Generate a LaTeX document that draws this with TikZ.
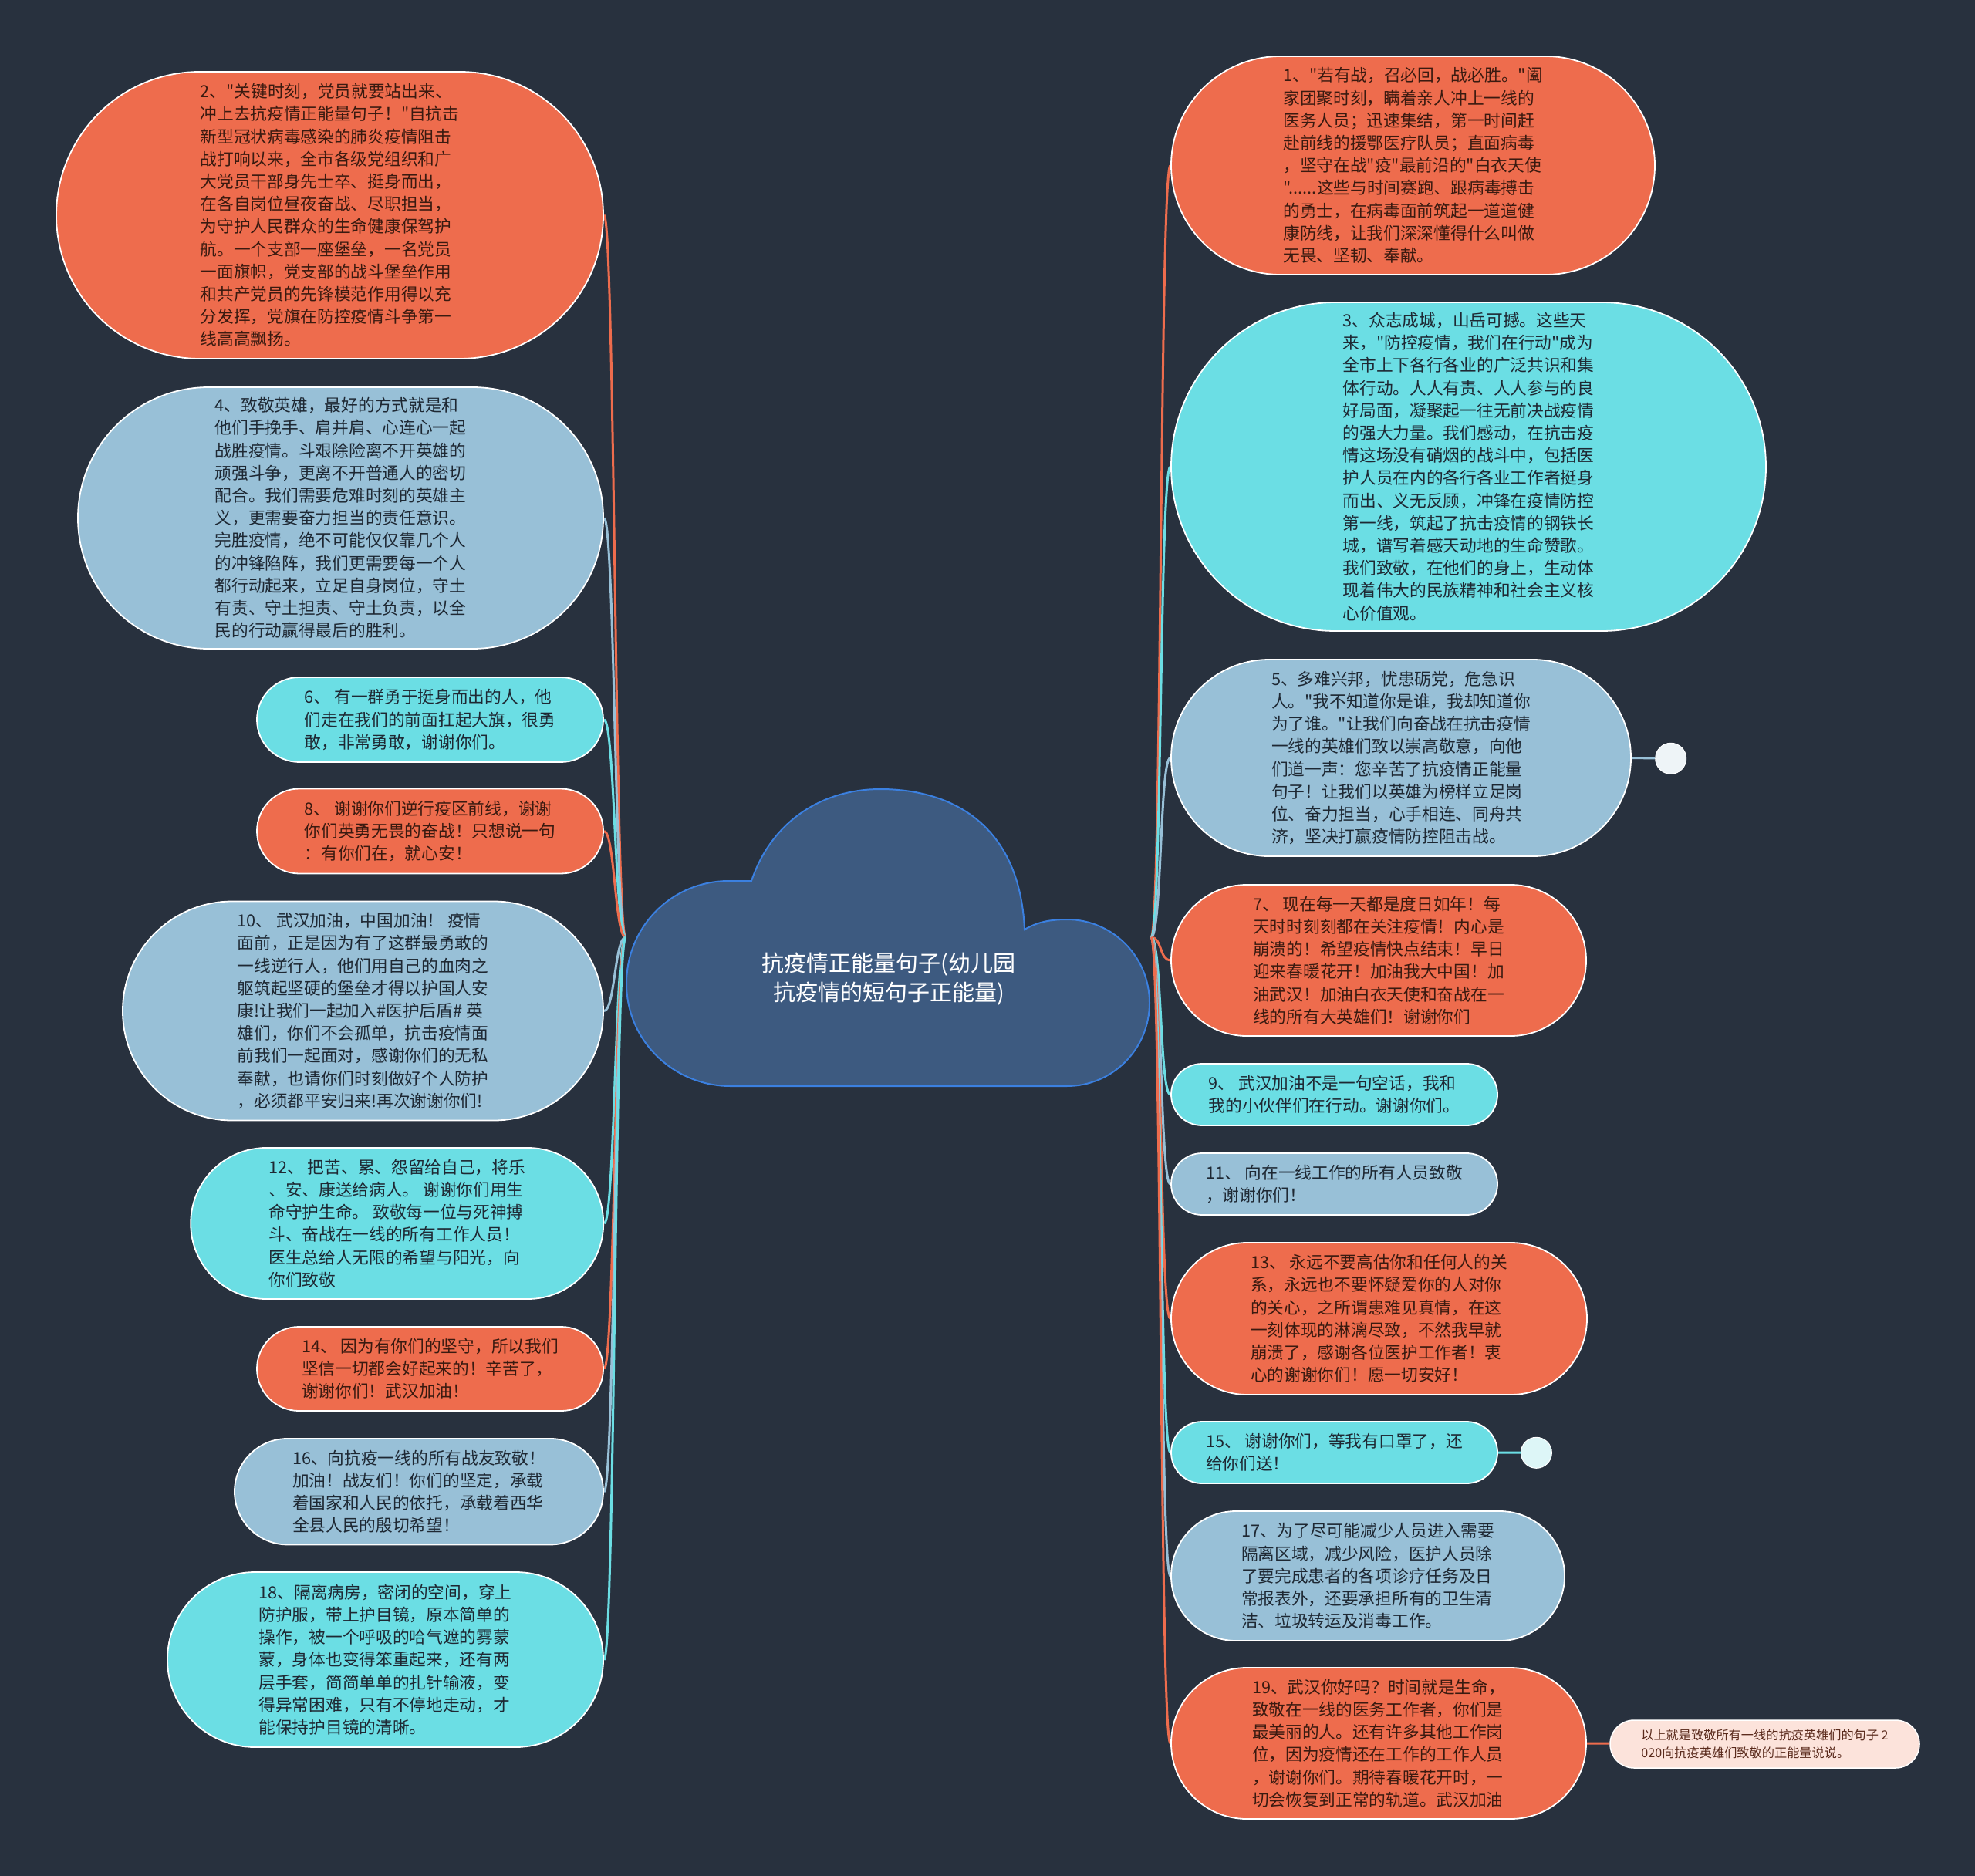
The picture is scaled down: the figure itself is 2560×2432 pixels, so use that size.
\documentclass[tikz,border=0pt]{standalone}
\usepackage{fontspec}
\newfontfamily\cjk{Noto Sans CJK SC}
\usetikzlibrary{shapes.misc}
\pgfdeclarelayer{back}
\pgfdeclarelayer{bg}
\pgfsetlayers{back,bg,main}
\definecolor{bgc}{HTML}{28313E}
\definecolor{orng}{HTML}{EE6C4D}
\definecolor{lblu}{HTML}{98C0D7}
\definecolor{cyn}{HTML}{6BDEE4}
\definecolor{cldf}{HTML}{3D5A80}
\definecolor{cldb}{HTML}{3B80E0}
\definecolor{txtd}{HTML}{1E2833}
\definecolor{txto}{HTML}{3A1A10}
\definecolor{notef}{HTML}{FCE3DB}
\definecolor{notet}{HTML}{5A2A1C}
\definecolor{dotb}{HTML}{EEF4F7}
\definecolor{dotc}{HTML}{DDF6F7}
\begin{document}
\begin{tikzpicture}[x=1pt,y=-1pt,
 pill/.style={rounded rectangle, draw=white, line width=1.8pt, inner sep=0pt},
 po/.style={pill, fill=orng},
 pb/.style={pill, fill=lblu},
 pc/.style={pill, fill=cyn},
 tx/.style={align=left, inner sep=0pt, font=\cjk\fontsize{21.7pt}{29.2pt}\selectfont, text=txtd},
 txo/.style={tx, text=txto},
 link/.style={line width=3pt},
]
\useasboundingbox (0,0) rectangle (2560,2432);
\begin{pgfonlayer}{back}
\fill[bgc] (0,0) rectangle (2560,2432);
\end{pgfonlayer}

% central cloud
\draw[fill=cldf, draw=cldb, line width=2pt]
 (947,1408) .. controls (873,1408) and (812,1349) .. (812,1275)
 .. controls (812,1202) and (870,1142) .. (945,1142)
 -- (974,1142)
 .. controls (1000,1065) and (1065,1023) .. (1141,1023)
 .. controls (1235,1023) and (1322,1070) .. (1328,1205)
 .. controls (1345,1195) and (1362,1192) .. (1383,1192)
 .. controls (1442,1192) and (1490,1240) .. (1490,1300)
 .. controls (1490,1360) and (1442,1408) .. (1383,1408)
 -- cycle;
\node[align=center, inner sep=0pt, text=white, font=\cjk\fontsize{29pt}{38pt}\selectfont] (title) at (1152,1269) {抗疫情正能量句子(幼儿园\\抗疫情的短句子正能量)};
\coordinate (cl) at (811,1215);
\coordinate (cr) at (1492,1215);

% left nodes
\node[po, minimum width=709pt, minimum height=372pt] (n2) at (427.5,279) {};
\node[txo] at (n2) {2、"关键时刻，党员就要站出来、\\冲上去抗疫情正能量句子！"自抗击\\新型冠状病毒感染的肺炎疫情阻击\\战打响以来，全市各级党组织和广\\大党员干部身先士卒、挺身而出，\\在各自岗位昼夜奋战、尽职担当，\\为守护人民群众的生命健康保驾护\\航。一个支部一座堡垒，一名党员\\一面旗帜，党支部的战斗堡垒作用\\和共产党员的先锋模范作用得以充\\分发挥，党旗在防控疫情斗争第一\\线高高飘扬。};

\node[pb, minimum width=681pt, minimum height=339pt] (n4) at (441.5,671.5) {};
\node[tx] at (n4) {4、致敬英雄，最好的方式就是和\\他们手挽手、肩并肩、心连心一起\\战胜疫情。斗艰除险离不开英雄的\\顽强斗争，更离不开普通人的密切\\配合。我们需要危难时刻的英雄主\\义，更需要奋力担当的责任意识。\\完胜疫情，绝不可能仅仅靠几个人\\的冲锋陷阵，我们更需要每一个人\\都行动起来，立足自身岗位，守土\\有责、守土担责、守土负责，以全\\民的行动赢得最后的胜利。};

\node[pc, minimum width=449pt, minimum height=110pt] (n6) at (557.5,933) {};
\node[tx] at (n6) {6、 有一群勇于挺身而出的人，他\\们走在我们的前面扛起大旗，很勇\\敢，非常勇敢，谢谢你们。};

\node[po, minimum width=449pt, minimum height=110pt] (n8) at (557.5,1077.5) {};
\node[txo] at (n8) {8、 谢谢你们逆行疫区前线，谢谢\\你们英勇无畏的奋战！只想说一句\\：有你们在，就心安！};

\node[pb, minimum width=623pt, minimum height=284pt] (n10) at (470.5,1310.5) {};
\node[tx] at (n10) {10、 武汉加油，中国加油！ 疫情\\面前，正是因为有了这群最勇敢的\\一线逆行人，他们用自己的血肉之\\躯筑起坚硬的堡垒才得以护国人安\\康!让我们一起加入\#医护后盾\# 英\\雄们，你们不会孤单，抗击疫情面\\前我们一起面对，感谢你们的无私\\奉献，也请你们时刻做好个人防护\\，必须都平安归来!再次谢谢你们!};

\node[pc, minimum width=535pt, minimum height=196pt] (n12) at (514.7,1586) {};
\node[tx] at (n12) {12、 把苦、累、怨留给自己，将乐\\、安、康送给病人。 谢谢你们用生\\命守护生命。 致敬每一位与死神搏\\斗、奋战在一线的所有工作人员！\\医生总给人无限的希望与阳光，向\\你们致敬};

\node[po, minimum width=449pt, minimum height=109pt] (n14) at (557.5,1774.5) {};
\node[txo] at (n14) {14、 因为有你们的坚守，所以我们\\坚信一切都会好起来的！辛苦了，\\谢谢你们！武汉加油！};

\node[pb, minimum width=478pt, minimum height=137.5pt] (n16) at (543,1933.7) {};
\node[tx] at (n16) {16、向抗疫一线的所有战友致敬！\\加油！战友们！你们的坚定，承载\\着国家和人民的依托，承载着西华\\全县人民的殷切希望！};

\node[pc, minimum width=565pt, minimum height=227pt] (n18) at (499.5,2151.5) {};
\node[tx] at (n18) {18、隔离病房，密闭的空间，穿上\\防护服，带上护目镜，原本简单的\\操作，被一个呼吸的哈气遮的雾蒙\\蒙，身体也变得笨重起来，还有两\\层手套，简简单单的扎针输液，变\\得异常困难，只有不停地走动，才\\能保持护目镜的清晰。};

% right nodes
\node[po, minimum width=627pt, minimum height=283pt] (n1) at (1831.5,214.5) {};
\node[txo] at (n1) {1、"若有战，召必回，战必胜。"阖\\家团聚时刻，瞒着亲人冲上一线的\\医务人员；迅速集结，第一时间赶\\赴前线的援鄂医疗队员；直面病毒\\，坚守在战"疫"最前沿的"白衣天使\\"......这些与时间赛跑、跟病毒搏击\\的勇士，在病毒面前筑起一道道健\\康防线，让我们深深懂得什么叫做\\无畏、坚韧、奉献。};

\node[pc, minimum width=771pt, minimum height=426pt] (n3) at (1903.5,605) {};
\node[tx] at (n3) {3、众志成城，山岳可撼。这些天\\来，"防控疫情，我们在行动"成为\\全市上下各行各业的广泛共识和集\\体行动。人人有责、人人参与的良\\好局面，凝聚起一往无前决战疫情\\的强大力量。我们感动，在抗击疫\\情这场没有硝烟的战斗中，包括医\\护人员在内的各行各业工作者挺身\\而出、义无反顾，冲锋在疫情防控\\第一线，筑起了抗击疫情的钢铁长\\城，谱写着感天动地的生命赞歌。\\我们致敬，在他们的身上，生动体\\现着伟大的民族精神和社会主义核\\心价值观。};

\node[pb, minimum width=596pt, minimum height=255pt] (n5) at (1816,982.5) {};
\node[tx] at (n5) {5、多难兴邦，忧患砺党，危急识\\人。"我不知道你是谁，我却知道你\\为了谁。"让我们向奋战在抗击疫情\\一线的英雄们致以崇高敬意，向他\\们道一声：您辛苦了抗疫情正能量\\句子！让我们以英雄为榜样立足岗\\位、奋力担当，心手相连、同舟共\\济，坚决打赢疫情防控阻击战。};
\node[circle, fill=dotb, draw=white, line width=1pt, minimum size=40pt, inner sep=0pt] (d5) at (2165.7,983.3) {};

\node[po, minimum width=538pt, minimum height=196pt] (n7) at (1787,1245) {};
\node[txo] at (n7) {7、 现在每一天都是度日如年！每\\天时时刻刻都在关注疫情！内心是\\崩溃的！希望疫情快点结束！早日\\迎来春暖花开！加油我大中国！加\\油武汉！加油白衣天使和奋战在一\\线的所有大英雄们！谢谢你们};

\node[pc, minimum width=423pt, minimum height=80pt] (n9) at (1729.5,1419) {};
\node[tx] at (n9) {9、 武汉加油不是一句空话，我和\\我的小伙伴们在行动。谢谢你们。};

\node[pb, minimum width=423pt, minimum height=80pt] (n11) at (1729.5,1535) {};
\node[tx] at (n11) {11、 向在一线工作的所有人员致敬\\，谢谢你们！};

\node[po, minimum width=539pt, minimum height=197pt] (n13) at (1787.5,1709.5) {};
\node[txo] at (n13) {13、 永远不要高估你和任何人的关\\系，永远也不要怀疑爱你的人对你\\的关心，之所谓患难见真情，在这\\一刻体现的淋漓尽致，不然我早就\\崩溃了，感谢各位医护工作者！衷\\心的谢谢你们！愿一切安好！};

\node[pc, minimum width=423pt, minimum height=80pt] (n15) at (1729.5,1883) {};
\node[tx] at (n15) {15、 谢谢你们，等我有口罩了，还\\给你们送！};
\node[circle, fill=dotc, draw=white, line width=1pt, minimum size=40pt, inner sep=0pt] (d15) at (1991.4,1883.3) {};

\node[pb, minimum width=510pt, minimum height=168pt] (n17) at (1773,2043) {};
\node[tx] at (n17) {17、为了尽可能减少人员进入需要\\隔离区域，减少风险，医护人员除\\了要完成患者的各项诊疗任务及日\\常报表外，还要承担所有的卫生清\\洁、垃圾转运及消毒工作。};

\node[po, minimum width=538pt, minimum height=196pt] (n19) at (1787,2260) {};
\node[txo] at (n19) {19、武汉你好吗？时间就是生命，\\致敬在一线的医务工作者，你们是\\最美丽的人。还有许多其他工作岗\\位，因为疫情还在工作的工作人员\\，谢谢你们。期待春暖花开时，一\\切会恢复到正常的轨道。武汉加油};

\node[rounded rectangle, fill=notef, draw=white, line width=1.5pt, inner sep=0pt, minimum width=401pt, minimum height=62pt] (note) at (2287.5,2261) {};
\node[align=left, inner sep=0pt, text=notet, font=\cjk\fontsize{16.2pt}{23pt}\selectfont] at (note) {以上就是致敬所有一线的抗疫英雄们的句子 2\\020向抗疫英雄们致敬的正能量说说。};

% connectors
\begin{pgfonlayer}{bg}
\foreach \n/\cc in {n2/orng, n4/lblu, n6/cyn, n8/orng, n10/lblu, n12/cyn, n14/orng, n16/lblu, n18/cyn}
  \draw[link, draw=\cc] (cl) .. controls +(-14,0) and +(14,0) .. (\n.east);
\foreach \n/\cc in {n1/orng, n3/cyn, n5/lblu, n7/orng, n9/cyn, n11/lblu, n13/orng, n15/cyn, n17/lblu, n19/orng}
  \draw[link, draw=\cc] (cr) .. controls +(14,0) and +(-14,0) .. (\n.west);
\draw[link, draw=lblu] (n5.east) -- (d5);
\draw[link, draw=cyn] (n15.east) -- (d15);
\draw[link, draw=orng] (n19.east) -- (note);
\end{pgfonlayer}
\end{tikzpicture}
\end{document}
